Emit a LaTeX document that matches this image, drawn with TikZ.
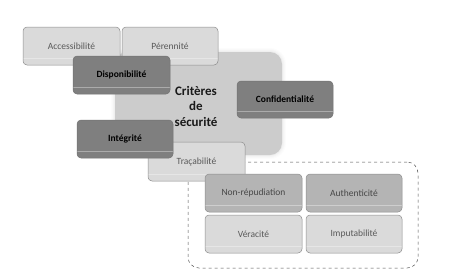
\documentclass[tikz,border=0pt]{standalone}
\usepackage{fontspec}
\setmainfont{Carlito}
\usetikzlibrary{calc}
\definecolor{lightbox}{HTML}{DADADA}
\definecolor{midbox}{HTML}{B4B4B4}
\definecolor{darkbox}{HTML}{7F7F7F}
\definecolor{corebox}{HTML}{CCCCCC}
\definecolor{edgegray}{HTML}{8C8C8C}
\tikzset{
  card/.style={rectangle, rounded corners=4pt, minimum width=#1, minimum height=38pt,
    inner sep=0pt, draw=edgegray, line width=0.5pt, font=\fontsize{9.5}{11}\selectfont,
    path picture={\draw[white, opacity=0.35, line width=0.6pt]
      ([yshift=7pt]path picture bounding box.south west) --
      ([yshift=7pt]path picture bounding box.south east);}},
  card/.default=97pt,
  lightcard/.style={card=#1, fill=lightbox, text=black!65},
  lightcard/.default=97pt,
  midcard/.style={card=#1, fill=midbox, text=black!72},
  midcard/.default=97pt,
  darkcard/.style={card=#1, fill=darkbox, draw=black!55, text=black,
    font=\fontsize{9.5}{11}\selectfont\bfseries},
  darkcard/.default=97pt,
  group/.style={draw=black!70, dashed, line width=0.5pt, rounded corners=11pt,
    minimum width=230pt, minimum height=106pt, inner sep=0pt},
}
\begin{document}
\begin{tikzpicture}[x=1pt, y=-1pt]
\useasboundingbox (0,0) rectangle (458,277);

% soft halo round the central block
\foreach \g/\o in {4/0.04, 3/0.06, 2/0.08, 1/0.11} {
  \fill[black!25, opacity=\o, rounded corners=12pt+\g pt]
    (115-\g,52-\g) rectangle (282+\g,155+\g);
}
\node[rectangle, rounded corners=12pt, fill=corebox, minimum width=167pt,
  minimum height=103pt, inner sep=0pt] (core) at (198.5,103.5) {};
\node[font=\fontsize{13}{15.5}\selectfont\bfseries, align=center, text=black!90]
  (title) at (196,106) {Critères\\de\\sécurité};

% upper criteria
\node[lightcard] (acc) at (71.5,46) {Accessibilité};
\node[lightcard=96pt] (per) at (170,46) {Pérennité};
\node[darkcard] (dispo) at (121.5,75) {Disponibilité};
\node[darkcard=96pt, minimum height=37pt] (conf) at (285,99.5) {Confidentialité};

% dashed group of traceability criteria
\node[group] (grp) at (303,215) {};
\node[lightcard, minimum height=39pt] (trac) at (196.5,161.5) {Traçabilité};
\node[darkcard=96pt] (integ) at (125,139) {Intégrité};

\node[midcard] (nonrep) at (253.5,193) {Non-répudiation};
\node[midcard=96pt] (auth) at (354,193) {Authenticité};
\node[lightcard] (verac) at (253.5,234) {Véracité};
\node[lightcard=96pt] (imput) at (354,234) {Imputabilité};
\end{tikzpicture}
\end{document}
